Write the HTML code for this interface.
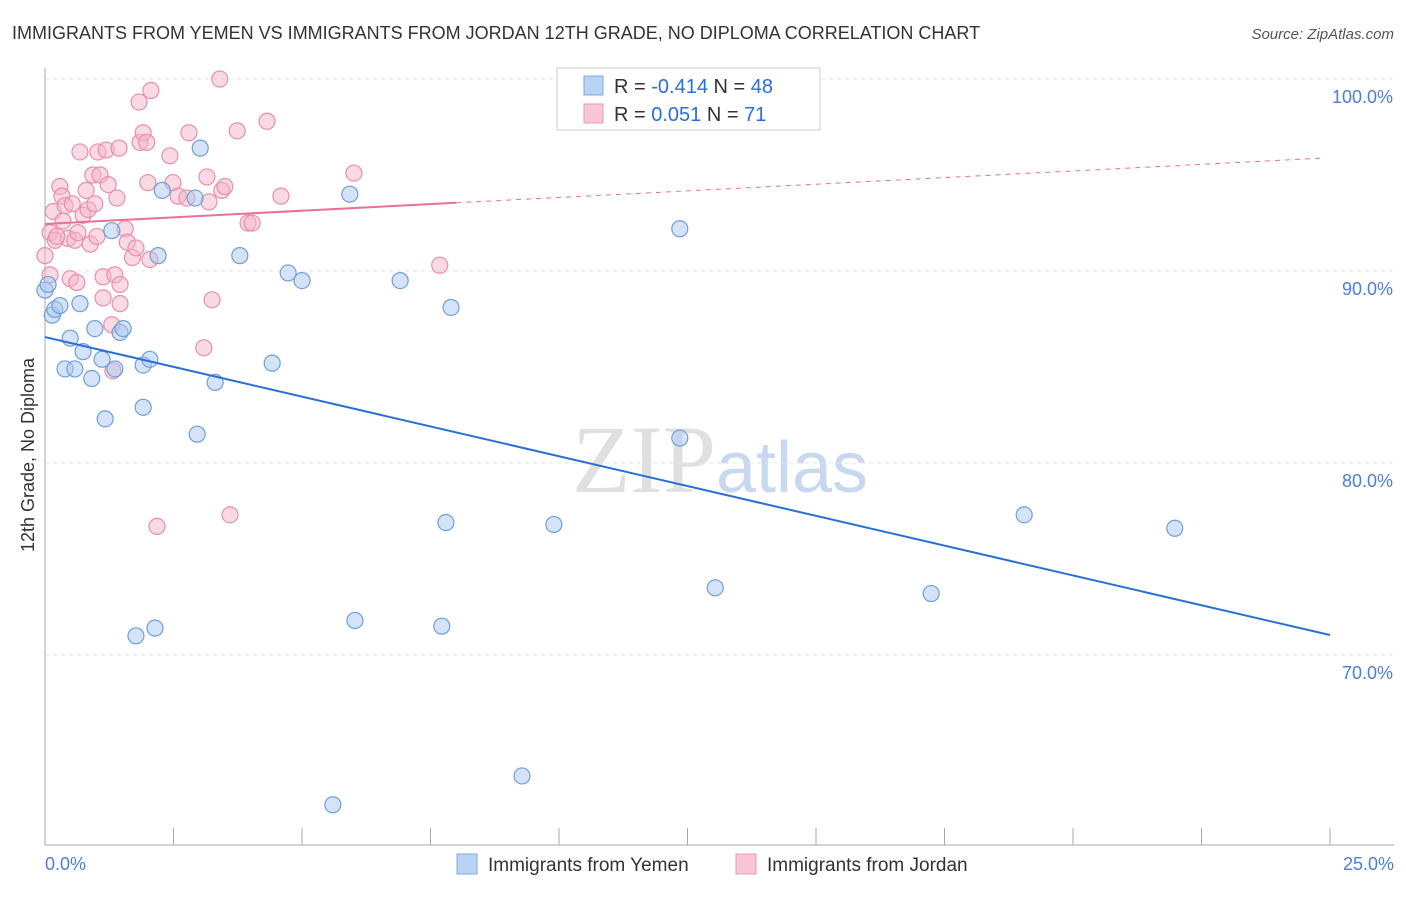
<!DOCTYPE html>
<html><head><meta charset="utf-8"><style>
body{margin:0;background:#fff;font-family:"Liberation Sans",sans-serif}
</style></head><body>
<svg id="chart" width="1406" height="892" xmlns="http://www.w3.org/2000/svg" font-family="Liberation Sans, sans-serif">
<text x="12" y="39" font-size="18" fill="#333">IMMIGRANTS FROM YEMEN VS IMMIGRANTS FROM JORDAN 12TH GRADE, NO DIPLOMA CORRELATION CHART</text>
<text x="1394" y="39" font-size="15" fill="#555" text-anchor="end" font-style="italic">Source: ZipAtlas.com</text>
<text transform="translate(34,455) rotate(-90)" font-size="18" fill="#333" text-anchor="middle">12th Grade, No Diploma</text>
<text x="720" y="492" font-size="96" text-anchor="middle" fill="#e0e0e0" font-family="Liberation Serif, serif">ZIP<tspan fill="#c8d9ef" font-family="Liberation Sans, sans-serif" font-size="72">atlas</tspan></text>
<g id="grid"></g><g id="axes"></g><g id="pts"></g><g id="lines"></g>
<g>
<rect x="557" y="68" width="263" height="62" fill="#fff" stroke="#ccc"/>
<rect x="584" y="76" width="19" height="19" fill="#b9d3f4" stroke="#7fa8dc"/>
<rect x="584" y="104" width="19" height="19" fill="#f9c6d5" stroke="#eb9ab3"/>
<text x="614" y="93" font-size="20" fill="#333">R = <tspan fill="#2a6fd6">-0.414</tspan>   N = <tspan fill="#2a6fd6">48</tspan></text>
<text x="614" y="121" font-size="20" fill="#333">R =  <tspan fill="#2a6fd6"> 0.051</tspan>   N =  <tspan fill="#2a6fd6">71</tspan></text>
</g>
<g>
<rect x="457" y="854" width="20" height="20" fill="#b9d3f4" stroke="#7fa8dc"/>
<text x="488" y="871" font-size="19" fill="#333">Immigrants from Yemen</text>
<rect x="736" y="854" width="20" height="20" fill="#f9c6d5" stroke="#eb9ab3"/>
<text x="767" y="871" font-size="19" fill="#333">Immigrants from Jordan</text>
</g>
</svg>
<script>
const yTicks=[70,80,90,100];
const yTickLabels=["70.0%","80.0%","90.0%","100.0%"];
const xTickLabels=["0.0%","25.0%"];
const blueX=[0,0.14,0.19,0.29,0.49,0.39,0.58,0.68,0.74,0.91,0.97,1.11,1.17,1.30,1.36,1.46,1.52,1.91,1.91,2.04,2.20,2.28,2.96,2.92,3.02,3.31,3.79,4.42,4.73,5.00,5.93,6.91,7.90,12.35,12.35,7.80,9.90,13.04,17.24,19.05,21.98,1.77,2.14,6.03,7.72,9.28,5.60,0.06];
const blueY=[89.0,87.7,88.0,88.2,86.5,84.9,84.9,88.3,85.8,84.4,87.0,85.4,82.3,92.1,84.9,86.8,87.0,82.9,85.1,85.4,90.8,94.2,81.5,93.8,96.4,84.2,90.8,85.2,89.9,89.5,94.0,89.5,88.1,92.2,81.3,76.9,76.8,73.5,73.2,77.3,76.6,71.0,71.4,71.8,71.5,63.7,62.2,89.3];
const pinkX=[0,0.1,0.16,0.2,0.29,0.33,0.39,0.45,0.49,0.53,0.58,0.62,0.68,0.74,0.8,0.84,0.88,0.93,0.97,1.03,1.07,1.13,1.13,1.19,1.23,1.3,1.32,1.36,1.4,1.44,1.46,1.46,1.56,1.6,1.7,1.77,1.83,1.85,1.91,1.98,2.0,2.04,2.06,2.18,2.43,2.49,2.59,2.76,2.8,3.09,3.15,3.19,3.25,3.4,3.44,3.5,3.6,3.74,3.95,4.03,4.32,4.59,6.01,7.68,0.23,0.35,0.64,1.01,0.1];
const pinkY=[90.8,92.0,93.1,91.6,94.4,93.9,93.4,91.7,89.6,93.5,91.6,89.4,96.2,92.9,94.2,93.2,91.4,95.0,93.5,96.2,95.0,89.7,88.6,96.3,94.5,87.2,84.8,89.8,93.8,96.4,89.3,88.3,92.2,91.5,90.7,91.2,98.8,96.7,97.2,96.7,94.6,90.6,99.4,76.7,96.0,94.6,93.9,93.8,97.2,86.0,94.9,93.6,88.5,100.0,94.2,94.4,77.3,97.3,92.5,92.5,97.8,93.9,95.1,90.3,91.8,92.6,92.0,91.8,89.8];
const blueTrend=[86.56,71.04];
const pinkTrend=[92.45,95.9];
const pinkSolidEnd=8;
const NS="http://www.w3.org/2000/svg";
const X=v=>45+v*51.4, Y=v=>79+(100-v)*19.2;
function mk(t,a,p){const e=document.createElementNS(NS,t);for(const k in a)e.setAttribute(k,a[k]);document.getElementById(p).appendChild(e);return e;}
yTicks.forEach((t,i)=>{
 const g=mk('line',{x1:45,x2:1394,y1:Y(t),y2:Y(t),stroke:'#e4e4e4','stroke-dasharray':'4,4'},'grid');
 
 
 const l=mk('text',{x:1393,y:Y(t)+24,'font-size':18,fill:'#4a7fd4','text-anchor':'end'},'axes');l.textContent=yTickLabels[i];
 
 
});
const ax=mk('line',{x1:45,x2:1394,y1:845,y2:845,stroke:'#aaa'},'axes');


const ay=mk('line',{x1:45,x2:45,y1:68,y2:845,stroke:'#aaa'},'axes');


for(let i=0;i<=10;i++){const t=mk('line',{x1:X(i*2.5),x2:X(i*2.5),y1:828,y2:845,stroke:'#aaa'},'axes');
 
 }
[[0,'start',45],[1,'end',1394]].forEach(([i,a,x])=>{const l=mk('text',{x:x,y:870,'font-size':18,fill:'#4a7fd4','text-anchor':a},'axes');l.textContent=xTickLabels[i];
 
 });
function pts(xs,ys,f,s,n){xs.forEach((x,i)=>{const c=mk('circle',{cx:X(x),cy:Y(ys[i]),r:8,fill:f,'fill-opacity':0.5,stroke:s,'stroke-width':1.2},'pts');
 
 });}
pts(pinkX,pinkY,'#f4b6c8','#e88fab','jordan-point');
pts(blueX,blueY,'#a9c8f0','#6f9fd8','yemen-point');
const bl=mk('line',{x1:X(0),y1:Y(blueTrend[0]),x2:X(25),y2:Y(blueTrend[1]),stroke:'#2a6fd6','stroke-width':2},'lines');


const py=x=>pinkTrend[0]+(pinkTrend[1]-pinkTrend[0])*x/25;
const pl=mk('line',{x1:X(0),y1:Y(py(0)),x2:X(pinkSolidEnd),y2:Y(py(pinkSolidEnd)),stroke:'#e8709a','stroke-width':2},'lines');


const pd=mk('line',{x1:X(pinkSolidEnd),y1:Y(py(pinkSolidEnd)),x2:X(24.9),y2:Y(py(24.9)),stroke:'#e8709a','stroke-width':1,'stroke-dasharray':'5,5'},'lines');


</script>
</body></html>
